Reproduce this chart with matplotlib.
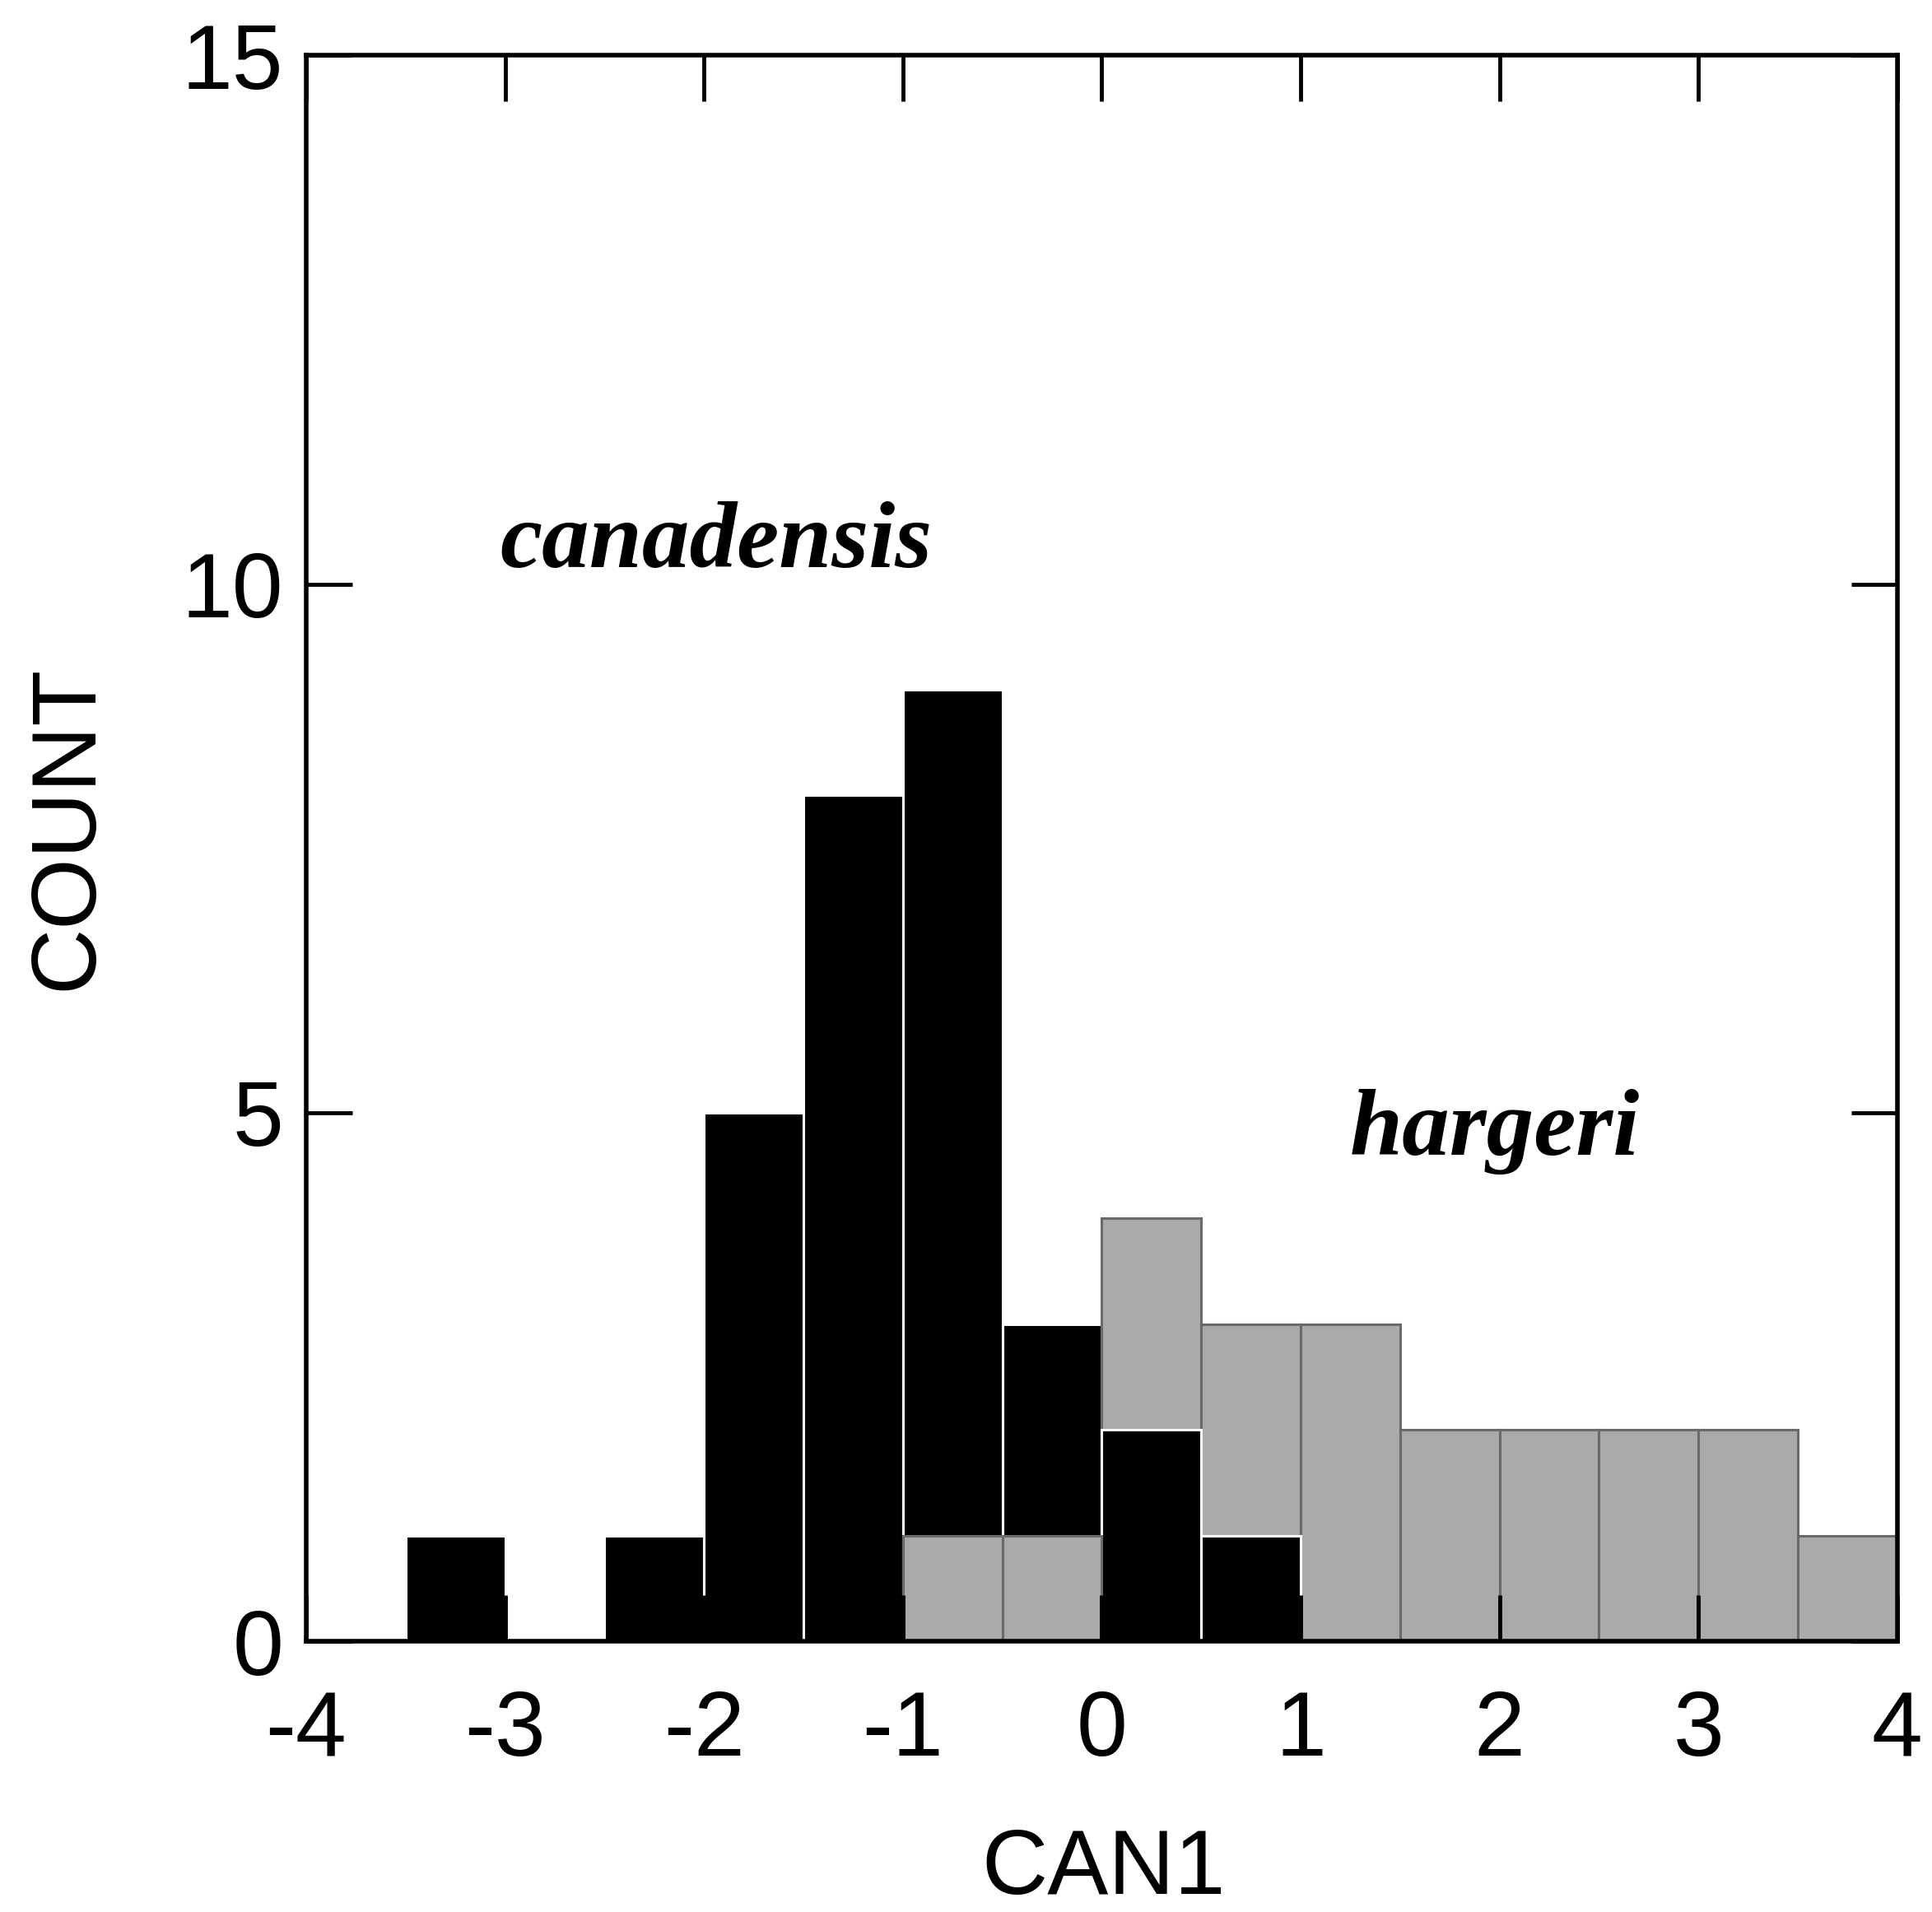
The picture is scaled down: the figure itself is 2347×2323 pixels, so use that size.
import matplotlib.pyplot as plt

# histogram bins (width 0.5) and counts
bin_left = [-3.5, -3.0, -2.5, -2.0, -1.5, -1.0, -0.5, 0.0, 0.5, 1.0, 1.5, 2.0, 2.5, 3.0, 3.5]
bin_width = 0.5
canadensis = [1, 0, 1, 5, 8, 9, 3, 2, 1, 0, 0, 0, 0, 0, 0]
hargeri = [0, 0, 0, 0, 0, 1, 1, 4, 3, 3, 2, 2, 2, 2, 1]

x_ticks = [-4, -3, -2, -1, 0, 1, 2, 3, 4]
y_ticks = [0, 5, 10, 15]

plt.rcParams["font.family"] = ["Liberation Sans", "DejaVu Sans"]

fig = plt.figure(figsize=(23.47, 23.23), dpi=100)
ax = fig.add_axes([0.1585, 0.1416, 0.8235, 0.8294])

black_bars = ax.bar(bin_left, canadensis, width=bin_width, align="edge",
                    color="black", edgecolor="white", linewidth=2.2)
gray_bars = ax.bar(bin_left, hargeri, width=bin_width, align="edge",
                   color="#aaaaaa", edgecolor="#6a6a6a", linewidth=2.2)

# shorter bar of each bin sits in front of the taller one
for b, g in zip(black_bars, gray_bars):
    if b.get_height() <= g.get_height():
        b.set_zorder(1.2)
        g.set_zorder(1.1)
    else:
        b.set_zorder(1.1)
        g.set_zorder(1.2)

ax.set_xlim(-4, 4)
ax.set_ylim(0, 15)
ax.set_xticks(x_ticks)
ax.set_yticks(y_ticks)
ax.set_xticklabels([str(t) for t in x_ticks])
ax.set_axisbelow(False)

ax.tick_params(axis="both", direction="in", length=40, width=3.5,
               labelsize=80, top=True, right=True, colors="black")
ax.tick_params(axis="x", pad=42)
ax.tick_params(axis="y", pad=20)

for sp in ax.spines.values():
    sp.set_linewidth(4)
    sp.set_zorder(3)

ax.set_ylabel("COUNT", fontsize=80, va="center")
ax.yaxis.set_label_coords(-0.150, 0.513)
ax.set_xlabel("CAN1", fontsize=80, va="center")
ax.xaxis.set_label_coords(0.501, -0.144)

ax.text(-1.94, 10.16, "canadensis", fontsize=83, fontweight="bold", fontstyle="italic",
        family="Liberation Serif", ha="center", va="baseline")
ax.text(1.975, 4.6, "hargeri", fontsize=83, fontweight="bold", fontstyle="italic",
        family="Liberation Serif", ha="center", va="baseline")

fig.savefig("out.png", dpi=100)
